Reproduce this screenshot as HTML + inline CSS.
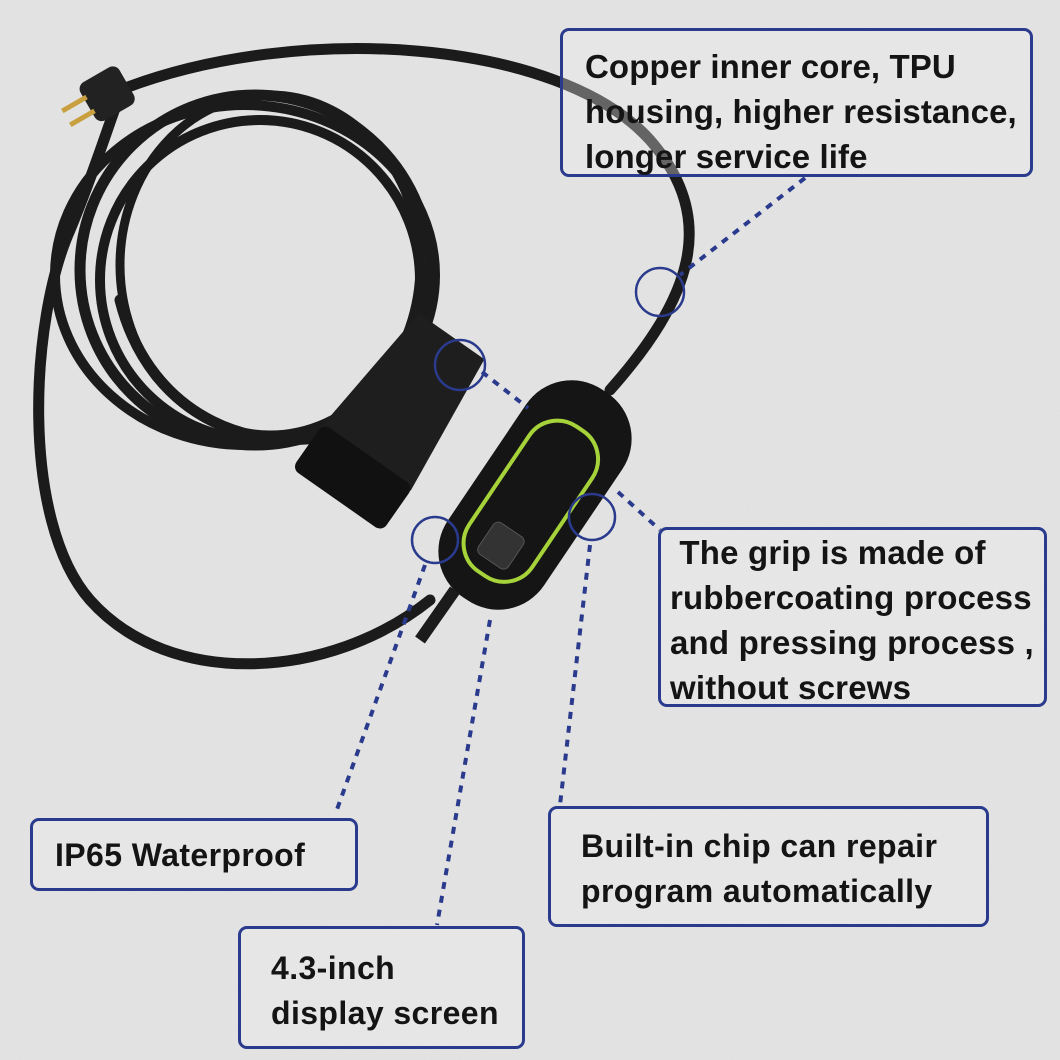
<!DOCTYPE html>
<html><head><meta charset="utf-8"><style>
html,body{margin:0;padding:0}
body{width:1060px;height:1060px;position:relative;overflow:hidden;background:#e6e6e6;font-family:"Liberation Sans",sans-serif}
.box{position:absolute;box-sizing:border-box;border:3px solid #2a3a8c;border-radius:9px;background:rgba(238,238,238,0.35);color:#141414;font-weight:bold;font-size:32px;line-height:45px;padding-left:22px;white-space:nowrap;letter-spacing:0.4px}
svg{position:absolute;left:0;top:0}
</style></head><body>
<svg width="1060" height="1060" viewBox="0 0 1060 1060">
<defs>
<filter id="n"><feTurbulence type="fractalNoise" baseFrequency="0.9" numOctaves="2" seed="3"/><feColorMatrix values="0 0 0 0 0.5 0 0 0 0 0.5 0 0 0 0 0.5 0 0 0 0.18 0"/></filter>
</defs>
<rect width="1060" height="1060" fill="#e6e6e6"/>
<rect width="1060" height="1060" filter="url(#n)"/>
<g fill="none" stroke="#1b1b1b" stroke-linecap="round">
<path d="M120,90 C300,20 560,40 650,140 C720,220 690,300 610,390" stroke-width="11"/>
<path d="M430,600 C330,680 170,690 90,600 C20,520 30,320 70,230 C95,170 110,120 120,95" stroke-width="11"/>
<ellipse cx="255" cy="270" rx="175" ry="175" stroke-width="11"/>
<ellipse cx="260" cy="280" rx="160" ry="160" stroke-width="10"/>
<ellipse cx="245" cy="275" rx="190" ry="170" stroke-width="10"/>
<ellipse cx="270" cy="265" rx="150" ry="170" stroke-width="9"/>
<path d="M120,300 C150,420 260,460 350,430" stroke-width="11"/>
</g>
<g transform="translate(105,95) rotate(-30)">
<rect x="-20" y="-22" width="45" height="44" rx="8" fill="#222"/>
<rect x="-45" y="-10" width="28" height="5" fill="#c8a040"/>
<rect x="-45" y="6" width="28" height="5" fill="#c8a040"/>
</g>
<g transform="translate(400,410) rotate(35)">
<path d="M-40,-90 L40,-90 L55,60 L-55,60 Z" fill="#1e1e1e"/>
<rect x="-55" y="55" width="110" height="55" rx="8" fill="#111"/>
</g>
<g transform="translate(535,495) rotate(-56)">
<rect x="-125" y="-58" width="250" height="116" rx="55" fill="#151515"/>
<rect x="-95" y="-38" width="175" height="76" rx="34" fill="none" stroke="#a6d23a" stroke-width="4"/>
<rect x="-80" y="-18" width="38" height="36" rx="6" fill="#333" stroke="#555"/>
</g>
<path d="M455,590 L420,640" stroke="#1b1b1b" stroke-width="12"/>
<g fill="none" stroke="#2a3a8c" stroke-width="4" stroke-dasharray="7,7">
<path d="M805,178 L680,275"/>
<path d="M482,372 L528,408"/>
<path d="M618,492 L660,530"/>
<path d="M425,565 L335,815"/>
<path d="M490,620 L437,925"/>
<path d="M590,545 L560,805"/>
</g>
<g fill="none" stroke="#2a3a8c" stroke-width="2.5">
<circle cx="660" cy="292" r="24"/>
<circle cx="460" cy="365" r="25"/>
<circle cx="592" cy="517" r="23"/>
<circle cx="435" cy="540" r="23"/>
</g>
</svg>
<div class="box" style="left:560px;top:28px;width:473px;height:149px;padding-top:13px;font-size:33px;letter-spacing:0.1px">Copper inner core, TPU<br>housing, higher resistance,<br>longer service life</div>
<div class="box" style="left:658px;top:527px;width:389px;height:180px;padding-left:9px;padding-top:0px;font-size:33px;letter-spacing:0.2px">&nbsp;The grip is made of<br>rubbercoating process<br>and pressing process ,<br>without screws</div>
<div class="box" style="left:30px;top:818px;width:328px;height:73px;padding-top:12px">IP65 Waterproof</div>
<div class="box" style="left:548px;top:806px;width:441px;height:121px;padding-left:30px;padding-top:15px">Built-in chip can repair<br>program automatically</div>
<div class="box" style="left:238px;top:926px;width:287px;height:123px;padding-left:30px;padding-top:17px">4.3-inch<br>display screen</div>
</body></html>
